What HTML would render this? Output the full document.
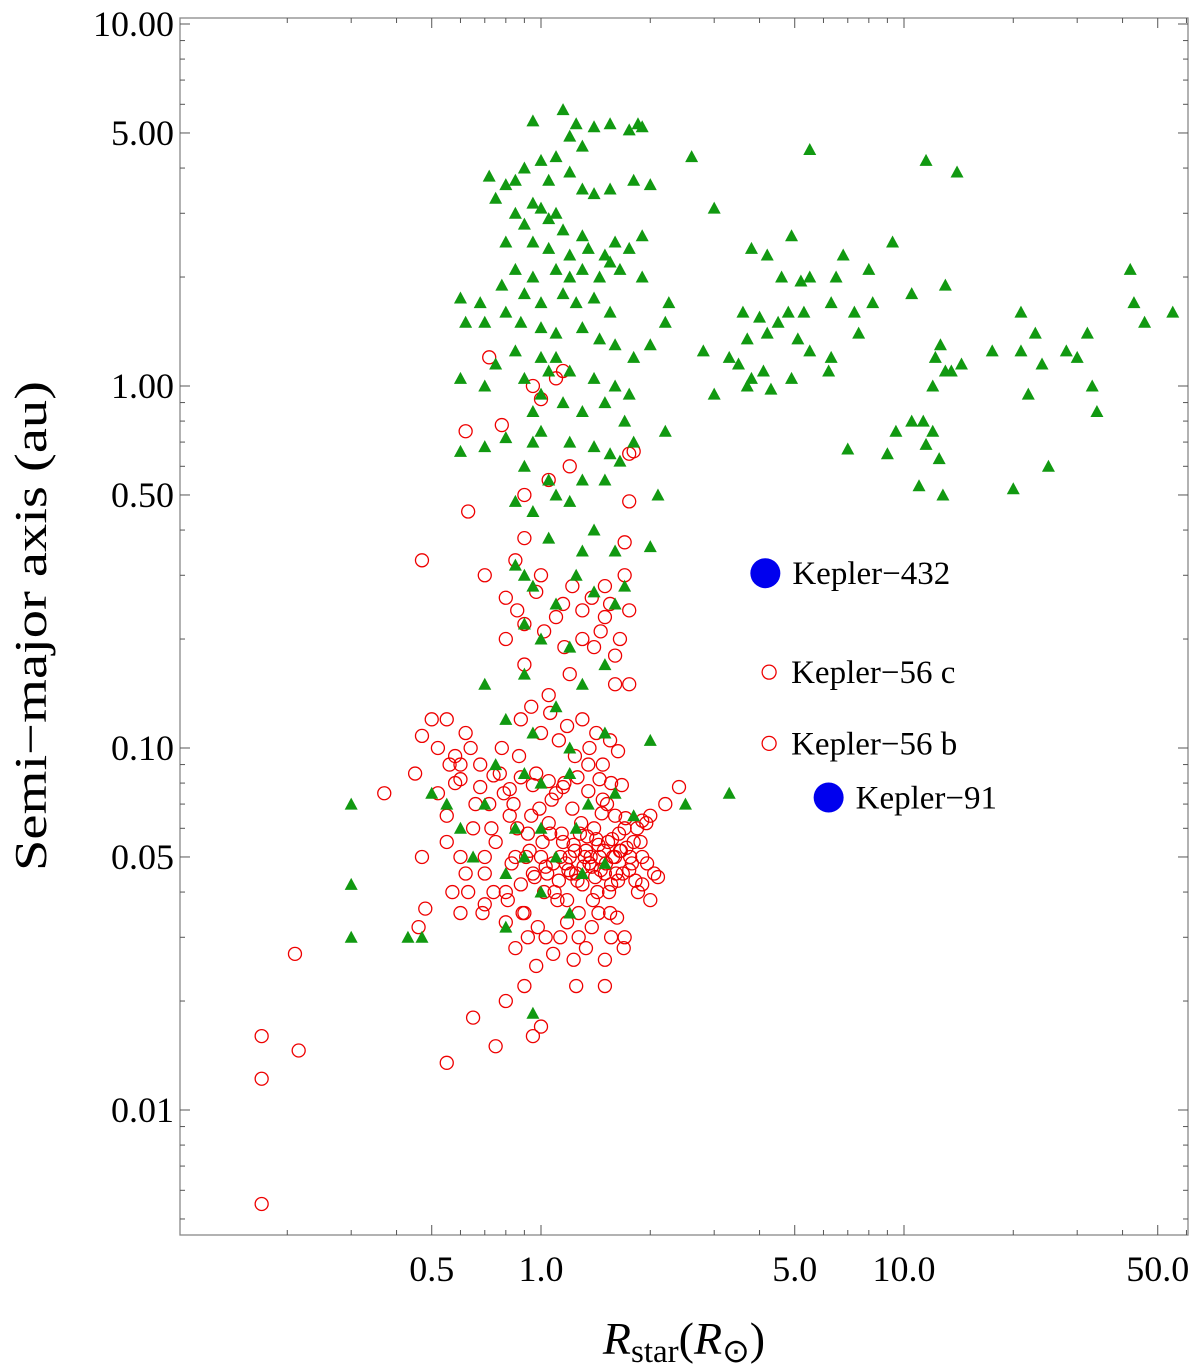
<!DOCTYPE html>
<html><head><meta charset="utf-8"><style>
html,body{margin:0;padding:0;background:#fff;}
svg{display:block;font-family:"Liberation Serif",serif;}
</style></head><body>
<svg id="chart" width="1200" height="1366" viewBox="0 0 1200 1366" xmlns="http://www.w3.org/2000/svg">
<rect x="0" y="0" width="1200" height="1366" fill="#fff"/>
<g id="frame"></g>
<g id="ticks"></g>
<g id="marks"></g>
<g id="ann"></g>
<text x="46" y="626" font-size="46" text-anchor="middle" textLength="490" lengthAdjust="spacingAndGlyphs" transform="rotate(-90 46 626)">Semi−major axis (au)</text>
<text x="684" y="1354" font-size="46" text-anchor="middle"><tspan font-style="italic">R</tspan><tspan font-size="33" dy="8">star</tspan><tspan dy="-8">(</tspan><tspan font-style="italic">R</tspan><tspan font-size="33" dy="8">⊙</tspan><tspan dy="-8">)</tspan></text>
</svg>
<script>
const yTickValues = [0.01, 0.05, 0.1, 0.5, 1, 5, 10];
const yTickLabels = ["0.01", "0.05", "0.10", "0.50", "1.00", "5.00", "10.00"];
const xTickValues = [0.5, 1, 5, 10, 50];
const xTickLabels = ["0.5", "1.0", "5.0", "10.0", "50.0"];

const greenR = [0.95,1.15,1.25,1.4,1.55,1.75,1.85,1.9,1.2,1.1,1.3,1.0,0.9,0.85,0.8,0.75,0.72,1.05,1.2,1.3,1.4,1.55,1.8,2.0,0.95,1.0,1.05,1.1,0.9,0.85,1.15,1.3,0.8,0.95,1.05,1.2,1.35,1.5,1.6,1.75,1.9,1.9,1.65,1.55,1.45,1.3,1.2,1.1,0.95,0.85,0.78,0.9,1.0,1.15,1.25,1.4,1.55,0.6,0.68,0.62,0.7,0.8,0.88,1.0,1.1,1.3,1.45,1.6,1.8,2.0,2.2,2.25,1.1,1.0,1.05,1.2,0.85,0.75,0.7,0.6,0.9,1.4,1.6,1.75,1.0,0.95,1.0,1.15,1.3,1.5,1.7,1.55,1.4,1.2,0.95,0.9,0.6,0.7,0.8,2.2,1.8,1.65,1.5,1.3,1.1,0.95,0.85,1.05,1.2,1.4,1.6,1.3,1.05,0.9,0.85,0.95,1.1,1.25,1.4,1.6,1.7,2.0,0.9,1.0,1.2,1.5,1.3,1.1,0.9,0.7,0.8,0.95,1.2,1.5,2.0,0.75,0.9,1.0,1.2,1.35,1.6,1.8,0.7,0.85,1.0,1.25,0.9,1.1,1.3,1.5,0.8,1.0,1.2,0.8,0.65,0.6,0.5,0.55,0.3,0.3,0.3,0.43,0.47,0.95,2.5,3.3,2.1,
2.6,3.0,3.8,4.2,4.9,5.5,4.6,5.2,5.5,6.5,6.8,8.0,9.3,10.5,11.5,14.0,13,8.2,7.3,6.3,5.3,4.8,4.5,4.0,3.6,3.7,4.2,5.1,5.5,6.3,7.5,6.2,4.9,4.1,3.8,3.5,3.3,2.8,3.0,3.7,4.3,7.0,9.5,9.0,10.5,11.3,12.0,11.0,12.8,12.5,11.5,13,12.2,12.6,13.5,14.4,17.5,21,21,23,24,28,30,32,33,34,42,43,46,55,20,25,22,12];
const greenA = [5.4,5.8,5.3,5.2,5.3,5.1,5.3,5.2,4.9,4.3,4.6,4.2,4.0,3.7,3.6,3.3,3.8,3.7,3.9,3.5,3.4,3.5,3.7,3.6,3.2,3.1,2.9,3.0,2.8,3.0,2.7,2.6,2.5,2.5,2.4,2.3,2.4,2.3,2.5,2.4,2.6,2.0,2.1,2.2,2.0,2.1,2.0,2.1,2.0,2.1,1.9,1.8,1.7,1.8,1.7,1.75,1.6,1.75,1.7,1.5,1.5,1.6,1.5,1.45,1.4,1.45,1.35,1.3,1.2,1.3,1.5,1.7,1.2,1.2,1.1,1.1,1.25,1.15,1.0,1.05,1.05,1.05,1.0,0.95,0.95,0.85,0.75,0.9,0.85,0.9,0.8,0.65,0.68,0.7,0.7,0.6,0.66,0.68,0.72,0.75,0.7,0.62,0.55,0.55,0.5,0.45,0.48,0.55,0.48,0.4,0.35,0.35,0.38,0.3,0.32,0.28,0.25,0.3,0.27,0.25,0.28,0.36,0.22,0.2,0.19,0.17,0.15,0.13,0.16,0.15,0.12,0.11,0.1,0.11,0.105,0.09,0.085,0.08,0.085,0.07,0.075,0.065,0.07,0.06,0.06,0.06,0.05,0.05,0.045,0.048,0.045,0.04,0.035,0.032,0.05,0.06,0.075,0.07,0.07,0.042,0.030,0.030,0.030,0.0185,0.07,0.075,0.5,
4.3,3.1,2.4,2.3,2.6,4.5,2.0,1.95,2.0,2.0,2.3,2.1,2.5,1.8,4.2,3.9,1.9,1.7,1.6,1.7,1.6,1.6,1.5,1.55,1.6,1.35,1.4,1.35,1.25,1.2,1.4,1.1,1.05,1.1,1.05,1.15,1.2,1.25,0.95,1.0,0.98,0.67,0.75,0.65,0.8,0.8,0.75,0.53,0.5,0.63,0.69,1.1,1.2,1.3,1.1,1.15,1.25,1.6,1.25,1.4,1.15,1.25,1.2,1.4,1.0,0.85,2.1,1.7,1.5,1.6,0.52,0.6,0.95,1.0];

const redR = [0.17,0.17,0.17,0.215,0.21,0.37,0.47,0.47,0.47,0.48,0.46,0.55,0.55,0.6,0.63,0.65,0.7,0.75,0.8,0.8,0.9,0.95,1.0,1.5,1.25,1.7,0.63,0.7,0.78,0.62,0.72,0.85,0.9,1.2,1.05,0.9,0.95,1.0,1.1,1.15,1.75,1.8,1.75,1.7,1.7,1.5,1.5,0.8,0.9,1.0,1.15,1.3,1.6,1.75,1.6,1.4,1.2,1.05,0.55,0.5,0.45,0.6,0.58,0.52,0.62,2.4,2.2,2.0,1.9,2.0,
0.55,0.58,0.6,0.65,0.68,0.7,0.72,0.75,0.78,0.8,0.82,0.85,0.87,0.9,0.92,0.95,0.97,1.0,1.02,1.05,1.08,1.1,1.12,1.15,1.18,1.2,1.22,1.25,1.28,1.3,1.33,1.35,1.38,1.4,1.43,1.45,1.48,1.5,1.53,1.55,1.58,1.6,1.63,1.65,1.7,1.75,1.8,1.85,1.9,1.95,2.05,
0.56,0.62,0.66,0.7,0.74,0.79,0.83,0.86,0.89,0.93,0.96,0.99,1.03,1.06,1.09,1.13,1.16,1.19,1.23,1.26,1.29,1.32,1.36,1.39,1.42,1.46,1.49,1.52,1.56,1.6,1.64,1.68,1.72,1.78,1.84,1.9,
0.52,0.57,0.64,0.69,0.73,0.77,0.81,0.84,0.88,0.91,0.94,0.98,1.01,1.04,1.07,1.11,1.14,1.17,1.21,1.24,1.27,1.31,1.34,1.37,1.41,1.44,1.47,1.51,1.54,1.57,1.61,1.66,1.71,1.76,1.82,1.88,1.96,2.1,
0.85,0.92,0.97,1.03,1.08,1.13,1.18,1.23,1.27,1.33,1.38,1.44,1.5,1.56,1.62,1.69,0.88,0.94,1.0,1.06,1.12,1.18,1.24,1.3,1.36,1.42,1.48,1.55,1.63,
0.8,0.86,0.9,0.97,1.02,1.1,1.16,1.22,1.3,1.38,1.46,1.55,1.65,1.75,0.6,0.68,0.74,0.82,0.88,0.95,1.05,1.15,1.26,1.35,1.45,1.56,1.67];
const redA = [0.016,0.0122,0.0055,0.0146,0.027,0.075,0.33,0.108,0.05,0.036,0.032,0.0135,0.055,0.035,0.04,0.018,0.037,0.015,0.033,0.02,0.022,0.016,0.017,0.022,0.022,0.03,0.45,0.3,0.78,0.75,1.2,0.33,0.38,0.6,0.55,0.5,1.0,0.92,1.05,1.1,0.65,0.66,0.48,0.3,0.37,0.28,0.23,0.2,0.17,0.3,0.25,0.2,0.15,0.15,0.18,0.19,0.16,0.14,0.12,0.12,0.085,0.09,0.095,0.1,0.11,0.078,0.07,0.065,0.063,0.038,
0.065,0.08,0.05,0.06,0.09,0.045,0.07,0.055,0.1,0.04,0.065,0.05,0.095,0.035,0.058,0.045,0.085,0.05,0.04,0.062,0.048,0.075,0.043,0.055,0.038,0.05,0.068,0.045,0.058,0.042,0.052,0.09,0.047,0.06,0.04,0.05,0.072,0.045,0.055,0.035,0.05,0.065,0.043,0.052,0.06,0.046,0.055,0.04,0.05,0.062,0.045,
0.09,0.045,0.07,0.05,0.04,0.075,0.048,0.06,0.035,0.052,0.044,0.068,0.047,0.058,0.04,0.05,0.08,0.046,0.054,0.043,0.062,0.05,0.048,0.038,0.056,0.046,0.052,0.07,0.042,0.05,0.058,0.045,0.053,0.048,0.06,0.042,
0.075,0.04,0.1,0.035,0.06,0.085,0.038,0.07,0.042,0.05,0.065,0.032,0.055,0.045,0.072,0.038,0.058,0.048,0.045,0.052,0.035,0.047,0.057,0.05,0.044,0.054,0.066,0.048,0.04,0.056,0.045,0.052,0.064,0.05,0.043,0.055,0.048,0.044,
0.028,0.03,0.025,0.03,0.027,0.03,0.033,0.026,0.03,0.028,0.032,0.035,0.026,0.03,0.034,0.028,0.12,0.13,0.11,0.125,0.105,0.115,0.095,0.12,0.1,0.11,0.09,0.105,0.098,
0.26,0.24,0.22,0.27,0.21,0.23,0.19,0.28,0.24,0.26,0.21,0.25,0.2,0.24,0.082,0.078,0.084,0.077,0.083,0.079,0.081,0.078,0.083,0.076,0.082,0.08,0.079];

const highlightNames = ["Kepler−432","Kepler−56 c","Kepler−56 b","Kepler−91"];
const highlightR = [4.15,4.25,4.25,6.2];
const highlightA = [0.304,0.162,0.103,0.073];
const highlightType = ["blue","red","red","blue"];

const L=180,R=1188,T=18,B=1235;
function xs(v){return 541+363*Math.log10(v);}
function ys(v){return 386-362*Math.log10(v);}
const NS="http://www.w3.org/2000/svg";
function mk(tag,attrs,parent){const e=document.createElementNS(NS,tag);for(const k in attrs)e.setAttribute(k,attrs[k]);parent.appendChild(e);return e;}
const frame=document.getElementById('frame'),ticks=document.getElementById('ticks'),marks=document.getElementById('marks'),ann=document.getElementById('ann');
const fr=mk('rect',{x:L,y:T,width:R-L,height:B-T,fill:'none',stroke:'#888','stroke-width':1.3},frame);


for(let d=-3;d<=1;d++){for(let m=1;m<=9;m++){const v=m*Math.pow(10,d);const y=ys(v);if(y<T-1||y>B)continue;
 const major=yTickValues.some(t=>Math.abs(t-v)<1e-9);const len=major?10:5;
 const t=mk('line',{x1:L,x2:L+len,y1:y,y2:y,stroke:'#555','stroke-width':1},ticks);
 
 
 const t2=mk('line',{x1:R,x2:R-len,y1:y,y2:y,stroke:'#555','stroke-width':1},ticks);
 
 }}
yTickValues.forEach((v,i)=>{const tx=mk('text',{x:L-6,y:ys(v)+12,'font-size':36,'text-anchor':'end'},ticks);tx.textContent=yTickLabels[i];
 
 });
for(let d=-1;d<=1;d++){for(let m=1;m<=9;m++){const v=m*Math.pow(10,d);const x=xs(v);if(x<L||x>R)continue;
 const major=xTickValues.some(t=>Math.abs(t-v)<1e-9);const len=major?10:5;
 const t=mk('line',{x1:x,x2:x,y1:B,y2:B-len,stroke:'#555','stroke-width':1},ticks);
 
 
 const t2=mk('line',{x1:x,x2:x,y1:T,y2:T+len,stroke:'#555','stroke-width':1},ticks);
 
 }}
xTickValues.forEach((v,i)=>{const tx=mk('text',{x:xs(v),y:B+46,'font-size':36,'text-anchor':'middle'},ticks);tx.textContent=xTickLabels[i];
 
 });
redR.forEach((r,i)=>{const c=mk('circle',{cx:xs(r),cy:ys(redA[i]),r:6.5,fill:'none',stroke:'#e00','stroke-width':1.3},marks);
 
 });
greenR.forEach((r,i)=>{const x=xs(r),y=ys(greenA[i]);
 const p=mk('polygon',{points:`${x},${y-6.5} ${x-6.5},${y+5.5} ${x+6.5},${y+5.5}`,fill:'#119911'},marks);
 
 });
highlightR.forEach((r,i)=>{const x=xs(r),y=ys(highlightA[i]);const big=highlightType[i]==='blue';
 const c=big?mk('circle',{cx:x,cy:y,r:15,fill:'#0000ee'},ann):mk('circle',{cx:x,cy:y,r:7,fill:'#fff',stroke:'#e00','stroke-width':1.3},ann);
 
 
 const t=mk('text',{x:x+(big?27:22),y:y+11,'font-size':33},ann);t.textContent=highlightNames[i];
 
 });
</script>
</body></html>
